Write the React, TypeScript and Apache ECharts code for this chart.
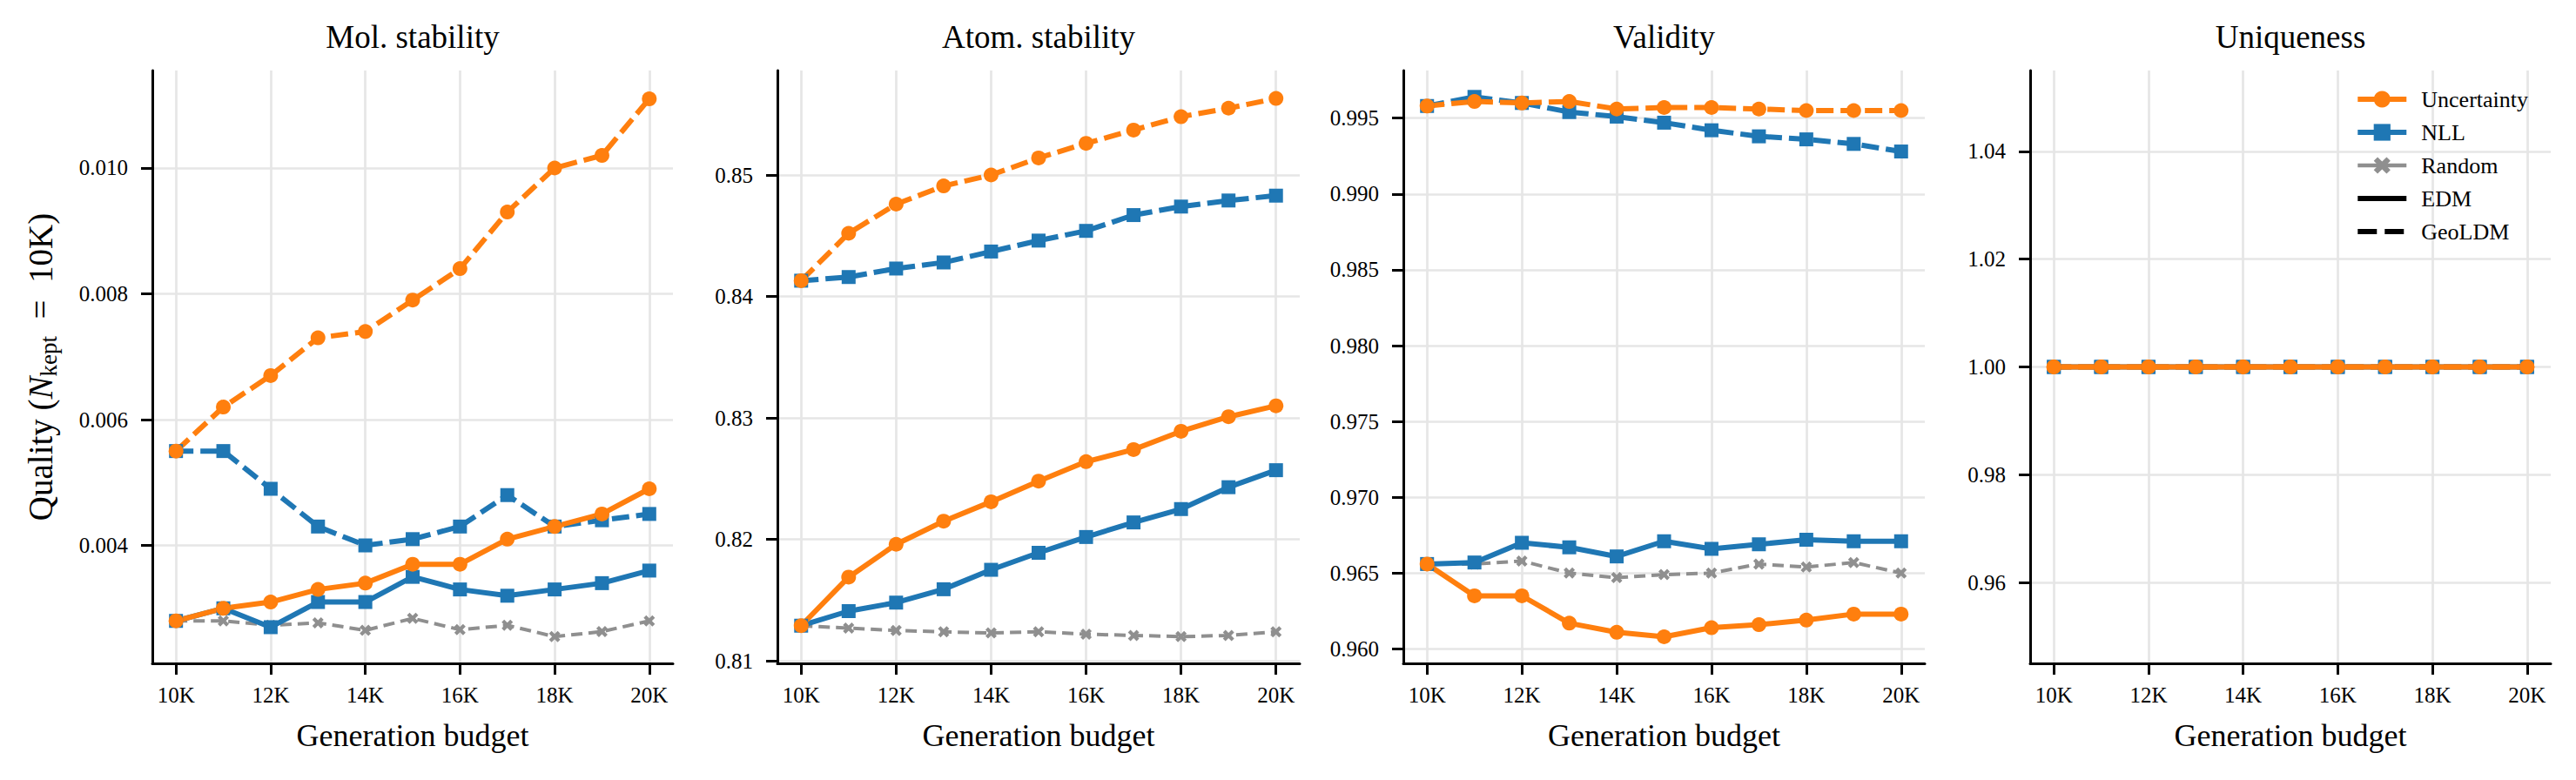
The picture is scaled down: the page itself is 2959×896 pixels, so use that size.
import React, { useEffect, useRef } from 'react';
import * as echarts from 'echarts';

// ---------- data ----------
const budgets = [10000, 11000, 12000, 13000, 14000, 15000, 16000, 17000, 18000, 19000, 20000];
const xTickValues = [10000, 12000, 14000, 16000, 18000, 20000];

const panelTitles = ['Mol. stability', 'Atom. stability', 'Validity', 'Uniqueness'];

// Mol. stability
const molUncEDM = [0.0028, 0.0030, 0.0031, 0.0033, 0.0034, 0.0037, 0.0037, 0.0041, 0.0043, 0.0045, 0.0049];
const molUncGeo = [0.0055, 0.0062, 0.0067, 0.0073, 0.0074, 0.0079, 0.0084, 0.0093, 0.0100, 0.0102, 0.0111];
const molNllEDM = [0.0028, 0.0030, 0.0027, 0.0031, 0.0031, 0.0035, 0.0033, 0.0032, 0.0033, 0.0034, 0.0036];
const molNllGeo = [0.0055, 0.0055, 0.0049, 0.0043, 0.0040, 0.0041, 0.0043, 0.0048, 0.0043, 0.0044, 0.0045];
const molRandom = [0.0028, 0.0028, 0.00273, 0.00277, 0.00265, 0.00284, 0.00266, 0.00273, 0.00255, 0.00263, 0.0028];
const molTicks = [0.004, 0.006, 0.008, 0.010];
const molRange = [0.002125, 0.01155];

// Atom. stability
const atomUncEDM = [0.8129, 0.8169, 0.8196, 0.8215, 0.8231, 0.8248, 0.8264, 0.8274, 0.8289, 0.8301, 0.8310];
const atomUncGeo = [0.8413, 0.8452, 0.8476, 0.8491, 0.8500, 0.8514, 0.8526, 0.8537, 0.8548, 0.8555, 0.8563];
const atomNllEDM = [0.8129, 0.8141, 0.8148, 0.8159, 0.8175, 0.8189, 0.8202, 0.8214, 0.8225, 0.8243, 0.8257];
const atomNllGeo = [0.8413, 0.8416, 0.8423, 0.8428, 0.8437, 0.8446, 0.8454, 0.8467, 0.8474, 0.8479, 0.8483];
const atomRandom = [0.8129, 0.8127, 0.8125, 0.8124, 0.8123, 0.8124, 0.8122, 0.8121, 0.8120, 0.8121, 0.8124];
const atomTicks = [0.81, 0.82, 0.83, 0.84, 0.85];
const atomRange = [0.8098, 0.8586];

// Validity
const valUncEDM = [0.9656, 0.9635, 0.9635, 0.9617, 0.9611, 0.9608, 0.9614, 0.9616, 0.9619, 0.9623, 0.9623];
const valUncGeo = [0.9958, 0.9961, 0.9960, 0.9961, 0.9956, 0.9957, 0.9957, 0.9956, 0.9955, 0.9955, 0.9955];
const valNllEDM = [0.9656, 0.9657, 0.9670, 0.9667, 0.9661, 0.9671, 0.9666, 0.9669, 0.9672, 0.9671, 0.9671];
const valNllGeo = [0.9958, 0.9964, 0.9960, 0.9954, 0.9951, 0.9947, 0.9942, 0.9938, 0.9936, 0.9933, 0.9928];
const valRandom = [0.9656, 0.9656, 0.9658, 0.9650, 0.9647, 0.9649, 0.9650, 0.9656, 0.9654, 0.9657, 0.9650];
const valTicks = [0.960, 0.965, 0.970, 0.975, 0.980, 0.985, 0.990, 0.995];
const valRange = [0.95905, 0.99814];

// Uniqueness
const uniqUncEDM = [1, 1, 1, 1, 1, 1, 1, 1, 1, 1, 1];
const uniqUncGeo = [1, 1, 1, 1, 1, 1, 1, 1, 1, 1, 1];
const uniqNllEDM = [1, 1, 1, 1, 1, 1, 1, 1, 1, 1, 1];
const uniqNllGeo = [1, 1, 1, 1, 1, 1, 1, 1, 1, 1, 1];
const uniqRandom = [1, 1, 1, 1, 1, 1, 1, 1, 1, 1, 1];
const uniqTicks = [0.96, 0.98, 1.0, 1.02, 1.04];
const uniqRange = [0.945, 1.055];

const legendNames = ['Uncertainty', 'NLL', 'Random', 'EDM', 'GeoLDM'];

// ---------- styles ----------
const FONT = "'Liberation Serif', 'DejaVu Serif', serif";
const ORANGE = '#ff7f0e';
const BLUE = '#1f77b4';
const GRAY = '#8f8f8f';
const GRID_COLOR = '#e6e6e6';
const X_SYMBOL =
  'path://M0,2.3 L2.3,0 L5,2.7 L7.7,0 L10,2.3 L7.3,5 L10,7.7 L7.7,10 L5,7.3 L2.3,10 L0,7.7 L2.7,5 Z';
const LW = 6;
const DASH = [20, 8];
const DASH_GRAY = [13, 7];

const grids = [
  { left: 175, width: 598 },
  { left: 893, width: 600 },
  { left: 1612, width: 599 },
  { left: 2332, width: 598 },
];
const GRID_TOP = 81;
const GRID_HEIGHT = 681;

const panels = [
  { unc: [molUncEDM, molUncGeo], nll: [molNllEDM, molNllGeo], rnd: molRandom, ticks: molTicks, range: molRange, dec: 3 },
  { unc: [atomUncEDM, atomUncGeo], nll: [atomNllEDM, atomNllGeo], rnd: atomRandom, ticks: atomTicks, range: atomRange, dec: 2 },
  { unc: [valUncEDM, valUncGeo], nll: [valNllEDM, valNllGeo], rnd: valRandom, ticks: valTicks, range: valRange, dec: 3 },
  { unc: [uniqUncEDM, uniqUncGeo], nll: [uniqNllEDM, uniqNllGeo], rnd: uniqRandom, ticks: uniqTicks, range: uniqRange, dec: 2 },
];

const pairs = (ys: number[]) => budgets.map((x, i) => [x, ys[i]]);

function buildOption() {
  const xAxis: any[] = [];
  const yAxis: any[] = [];
  const series: any[] = [];
  const grid: any[] = [];
  const graphic: any[] = [];

  panels.forEach((p, i) => {
    grid.push({
      left: grids[i].left,
      width: grids[i].width,
      top: GRID_TOP,
      height: GRID_HEIGHT,
      containLabel: false,
      outerBoundsMode: 'none',
    });
    xAxis.push({
      type: 'value',
      gridIndex: i,
      min: 9500,
      max: 20500,
      axisLine: { show: true, onZero: false, lineStyle: { color: '#000', width: 3 } },
      axisTick: { show: true, length: 13, lineStyle: { color: '#000', width: 3 }, customValues: xTickValues },
      axisLabel: {
        customValues: xTickValues,
        formatter: (v: number) => `${Math.round(v / 1000)}K`,
        fontSize: 25,
        color: '#000',
        fontFamily: FONT,
        margin: 24,
      },
      splitLine: { show: true, lineStyle: { color: GRID_COLOR, width: 2.7 } },
      name: 'Generation budget',
      nameLocation: 'middle',
      nameGap: 65,
      nameTextStyle: { fontSize: 36, color: '#000', fontFamily: FONT },
    });
    const y: any = {
      type: 'value',
      gridIndex: i,
      min: p.range[0],
      max: p.range[1],
      axisLine: { show: true, lineStyle: { color: '#000', width: 3 } },
      axisTick: { show: true, length: 13, lineStyle: { color: '#000', width: 3 }, customValues: p.ticks },
      axisLabel: {
        customValues: p.ticks,
        formatter: (v: number) => v.toFixed(p.dec),
        fontSize: 25,
        color: '#000',
        fontFamily: FONT,
        margin: 28,
      },
      splitLine: { show: true, lineStyle: { color: GRID_COLOR, width: 2.7 } },
    };
    if (i === 0) {
      y.name = '{a|Quality (}{n|N}{s|kept}{a|\u2002=\u200210K)}';
      y.nameLocation = 'middle';
      y.nameGap = 106;
      y.nameRotate = 90;
      y.nameTextStyle = {
        color: '#000',
        fontFamily: FONT,
        fontSize: 39,
        rich: {
          a: { fontSize: 39, fontFamily: FONT, color: '#000', lineHeight: 46 },
          n: { fontSize: 39, fontFamily: FONT, fontStyle: 'italic', color: '#000', lineHeight: 46 },
          s: { fontSize: 27, fontFamily: FONT, color: '#000', lineHeight: 22, verticalAlign: 'bottom' },
        },
      };
    }
    yAxis.push(y);

    const common = { type: 'line', xAxisIndex: i, yAxisIndex: i, silent: true, showSymbol: true, showAllSymbol: true };
    series.push({
      ...common,
      name: `Random-${i}`,
      data: pairs(p.rnd),
      symbol: X_SYMBOL,
      symbolSize: 13,
      lineStyle: { color: GRAY, width: 4, type: DASH_GRAY },
      itemStyle: { color: GRAY },
    });
    series.push({
      ...common,
      name: `NLL-EDM-${i}`,
      data: pairs(p.nll[0]),
      symbol: 'rect',
      symbolSize: 16,
      lineStyle: { color: BLUE, width: LW, type: 'solid' },
      itemStyle: { color: BLUE },
    });
    series.push({
      ...common,
      name: `NLL-Geo-${i}`,
      data: pairs(p.nll[1]),
      symbol: 'rect',
      symbolSize: 16,
      lineStyle: { color: BLUE, width: LW, type: DASH },
      itemStyle: { color: BLUE },
    });
    series.push({
      ...common,
      name: `Unc-EDM-${i}`,
      data: pairs(p.unc[0]),
      symbol: 'circle',
      symbolSize: 17,
      lineStyle: { color: ORANGE, width: LW, type: 'solid' },
      itemStyle: { color: ORANGE },
    });
    series.push({
      ...common,
      name: `Unc-Geo-${i}`,
      data: pairs(p.unc[1]),
      symbol: 'circle',
      symbolSize: 17,
      lineStyle: { color: ORANGE, width: LW, type: DASH },
      itemStyle: { color: ORANGE },
    });

    graphic.push({
      type: 'text',
      x: grids[i].left + grids[i].width / 2,
      y: 24,
      style: {
        text: panelTitles[i],
        textAlign: 'center',
        textVerticalAlign: 'top',
        fontSize: 37,
        fontFamily: FONT,
        fill: '#000',
      },
    });
  });

  // legend proxy series (no data)
  const proxy = { type: 'line', xAxisIndex: 3, yAxisIndex: 3, data: [], silent: true };
  series.push({ ...proxy, name: legendNames[0], symbol: 'circle', lineStyle: { color: ORANGE, width: LW }, itemStyle: { color: ORANGE } });
  series.push({ ...proxy, name: legendNames[1], symbol: 'rect', lineStyle: { color: BLUE, width: LW }, itemStyle: { color: BLUE } });
  series.push({ ...proxy, name: legendNames[2], symbol: X_SYMBOL, lineStyle: { color: GRAY, width: 4.5 }, itemStyle: { color: GRAY } });
  series.push({ ...proxy, name: legendNames[3], symbol: 'none', lineStyle: { color: '#000', width: LW }, itemStyle: { color: 'rgba(0,0,0,0)' } });
  series.push({ ...proxy, name: legendNames[4], symbol: 'none', lineStyle: { color: '#000', width: LW, type: [22, 9] }, itemStyle: { color: 'rgba(0,0,0,0)' } });

  return {
    animation: false,
    backgroundColor: '#fff',
    textStyle: { fontFamily: FONT },
    grid,
    xAxis,
    yAxis,
    series,
    graphic,
    legend: {
      data: legendNames,
      orient: 'vertical',
      right: 50,
      top: 96,
      itemWidth: 56,
      itemHeight: 24,
      itemGap: 12,
      selectedMode: false,
      lineStyle: { width: 'inherit' },
      textStyle: { fontSize: 26, fontFamily: FONT, color: '#000', lineHeight: 24, padding: [0, 0, 0, 12] },
    },
  };
}

export default function App() {
  const ref = useRef<HTMLDivElement>(null);
  useEffect(() => {
    if (!ref.current) return;
    const chart = echarts.init(ref.current, undefined, { renderer: 'svg' });
    chart.setOption(buildOption() as any);
    return () => chart.dispose();
  }, []);
  return (
    <div
      ref={ref}
      style={{ position: 'absolute', left: 0, top: 0, width: 2959, height: 896, background: '#fff' }}
    />
  );
}
